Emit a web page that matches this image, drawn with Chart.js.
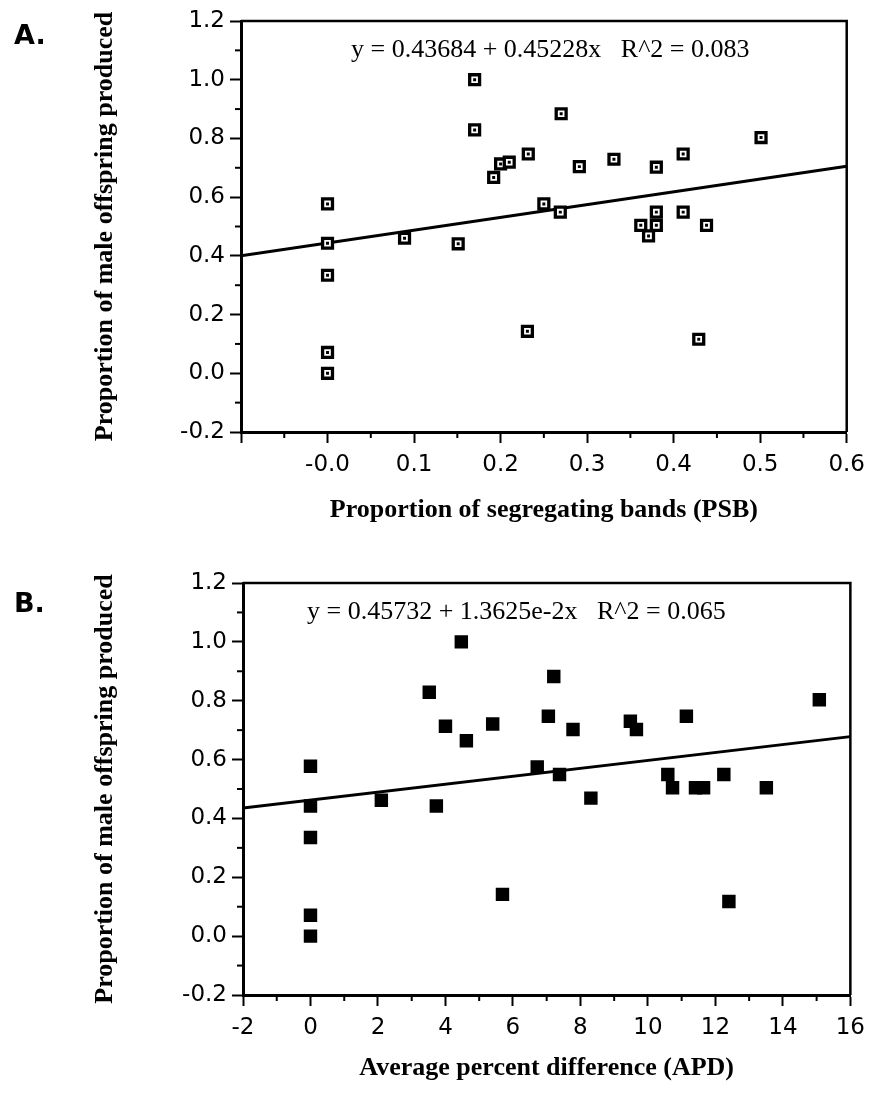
<!DOCTYPE html>
<html>
<head>
<meta charset="utf-8">
<script src="https://cdn.jsdelivr.net/npm/chart.js@4.4.1/dist/chart.umd.min.js"></script>
<style>
  html, body { margin: 0; padding: 0; background: #fff; }
  #wrap { position: relative; width: 873px; height: 1097px; }
  canvas { position: absolute; left: 0; }
</style>
</head>
<body>
<div id="wrap">
  <canvas id="chartA" width="873" height="550" style="top:0"></canvas>
  <canvas id="chartB" width="873" height="547" style="top:550px"></canvas>
</div>
<script>
// --- panel A: proportion of segregating bands (PSB) ---
const psbX = [0, 0, 0, 0, 0, 0.089, 0.151, 0.17, 0.17, 0.192, 0.2, 0.21, 0.231, 0.232, 0.25,
  0.269, 0.27, 0.291, 0.331, 0.362, 0.371, 0.38, 0.38, 0.38, 0.411, 0.411, 0.429, 0.438, 0.501];
const psbY = [0.577, 0.443, 0.334, 0.071, 0.0, 0.46, 0.441, 1.0, 0.829, 0.667, 0.713, 0.719, 0.143, 0.747, 0.577,
  0.549, 0.884, 0.704, 0.729, 0.504, 0.468, 0.702, 0.549, 0.504, 0.747, 0.549, 0.116, 0.504, 0.803];
const fitAX = [-0.1, 0.6];
const fitAY = [0.40, 0.705];
const equationA = 'y = 0.43684 + 0.45228x   R^2 = 0.083';

// --- panel B: average percent difference (APD) ---
const apdX = [0, 0, 0, 0, 0, 2.1, 3.52, 3.73, 4.0, 4.47, 4.62, 5.4, 5.69, 6.72, 7.05, 7.21, 7.38, 7.78,
  8.31, 9.48, 9.66, 10.59, 10.73, 11.14, 11.41, 11.65, 12.25, 12.4, 13.51, 15.08];
const apdY = [0.577, 0.442, 0.335, 0.071, 0.0, 0.462, 0.829, 0.442, 0.713, 1.0, 0.664, 0.721, 0.142, 0.575, 0.747, 0.882, 0.549, 0.702,
  0.469, 0.730, 0.702, 0.549, 0.504, 0.747, 0.504, 0.504, 0.549, 0.118, 0.504, 0.803];
const fitBX = [-2, 16];
const fitBY = [0.435, 0.678];
const equationB = 'y = 0.45732 + 1.3625e-2x   R^2 = 0.065';

// --- ticks ---
const yTickValues = [-0.2, 0, 0.2, 0.4, 0.6, 0.8, 1.0, 1.2];
const yTickLabels = ['-0.2', '0.0', '0.2', '0.4', '0.6', '0.8', '1.0', '1.2'];
const yMinorTicks = [-0.1, 0.1, 0.3, 0.5, 0.7, 0.9, 1.1];
const xTickValuesA = [-0.1, 0, 0.1, 0.2, 0.3, 0.4, 0.5, 0.6];
const xTickLabelsA = ['', '-0.0', '0.1', '0.2', '0.3', '0.4', '0.5', '0.6'];
const xMinorTicksA = [-0.05, 0.05, 0.15, 0.25, 0.35, 0.45, 0.55];
const xTickValuesB = [-2, 0, 2, 4, 6, 8, 10, 12, 14, 16];
const xTickLabelsB = ['-2', '0', '2', '4', '6', '8', '10', '12', '14', '16'];
const xMinorTicksB = [-1, 1, 3, 5, 7, 9, 11, 13, 15];

const yTitle = 'Proportion of male offspring produced';

const pts = (xs, ys) => xs.map((x, i) => ({ x, y: ys[i] }));

// box top/right sides, minor ticks, equation and panel letter
const extras = {
  id: 'extras',
  afterDraw(chart, args, o) {
    const { ctx, chartArea: a, scales: { x, y } } = chart;
    ctx.save();
    ctx.strokeStyle = '#000';
    ctx.lineWidth = 2.5;
    ctx.beginPath();
    ctx.moveTo(a.left, a.top);
    ctx.lineTo(a.right, a.top);
    ctx.lineTo(a.right, a.bottom);
    ctx.stroke();

    ctx.lineWidth = 2;
    o.yMinor.forEach(v => {
      const p = y.getPixelForValue(v);
      ctx.beginPath(); ctx.moveTo(a.left, p); ctx.lineTo(a.left - 6, p); ctx.stroke();
    });
    o.xMinor.forEach(v => {
      const p = x.getPixelForValue(v);
      ctx.beginPath(); ctx.moveTo(p, a.bottom); ctx.lineTo(p, a.bottom + 6); ctx.stroke();
    });

    ctx.fillStyle = '#000';
    ctx.textBaseline = 'alphabetic';
    ctx.font = '26px "Liberation Serif"';
    ctx.fillText(o.equation, a.left + o.eqDx, a.top + 36);
    ctx.font = 'bold 27px "DejaVu Sans"';
    ctx.fillText(o.letter, 14, o.letterY);
    ctx.restore();
  }
};

function makeChart(id, cfg) {
  const tickFont = { family: '"DejaVu Sans"', size: 23 };
  const titleFont = { family: '"Liberation Serif"', size: 26, weight: 'bold' };
  return new Chart(document.getElementById(id), {
    type: 'scatter',
    data: { datasets: cfg.datasets },
    plugins: [extras],
    options: {
      responsive: false,
      animation: false,
      events: [],
      layout: { padding: cfg.padding },
      plugins: {
        legend: { display: false },
        tooltip: { enabled: false },
        extras: cfg.extras
      },
      scales: {
        x: {
          type: 'linear',
          min: cfg.xMin, max: cfg.xMax,
          afterBuildTicks: s => { s.ticks = cfg.xTicks.map(v => ({ value: v })); },
          afterFit: s => { s.height = cfg.xHeight; },
          ticks: {
            autoSkip: false, maxRotation: 0, padding: 8,
            color: '#000', font: tickFont,
            callback: (v, i) => cfg.xLabels[i]
          },
          grid: { drawOnChartArea: false, tickLength: 11, tickWidth: 2, tickColor: '#000' },
          border: { color: '#000', width: 3 },
          title: { display: true, text: cfg.xTitle, color: '#000', font: titleFont, padding: { bottom: cfg.xTitlePad } }
        },
        y: {
          type: 'linear',
          min: -0.2, max: 1.2,
          afterBuildTicks: s => { s.ticks = yTickValues.map(v => ({ value: v })); },
          afterFit: s => { s.width = cfg.yWidth; },
          ticks: {
            autoSkip: false, padding: 5,
            color: '#000', font: tickFont,
            callback: (v, i) => yTickLabels[i]
          },
          grid: { drawOnChartArea: false, tickLength: 11, tickWidth: 2, tickColor: '#000' },
          border: { color: '#000', width: 3 },
          title: { display: true, text: yTitle, color: '#000', font: titleFont, padding: { top: 90 } }
        }
      }
    }
  });
}

makeChart('chartA', {
  datasets: [
    { data: pts(psbX, psbY), pointStyle: 'rect', pointRadius: 2.1, backgroundColor: '#000', borderWidth: 0 },
    { data: pts(psbX, psbY), pointStyle: 'rect', pointRadius: 7, backgroundColor: '#fff', borderColor: '#000', borderWidth: 3.3 },
    { data: pts(fitAX, fitAY), showLine: true, pointRadius: 0, borderColor: '#000', borderWidth: 3 }
  ],
  padding: { left: 0, top: 21, right: 26, bottom: 0 },
  xMin: -0.1, xMax: 0.6,
  xTicks: xTickValuesA, xLabels: xTickLabelsA,
  xHeight: 118, yWidth: 241,
  xTitle: 'Proportion of segregating bands (PSB)', xTitlePad: 24,
  extras: { yMinor: yMinorTicks, xMinor: xMinorTicksA, equation: equationA, eqDx: 110, letter: 'A.', letterY: 44 }
});

makeChart('chartB', {
  datasets: [
    { data: pts(apdX, apdY), pointStyle: 'rect', pointRadius: 9.5, backgroundColor: '#000', borderWidth: 0 },
    { data: pts(fitBX, fitBY), showLine: true, pointRadius: 0, borderColor: '#000', borderWidth: 3 }
  ],
  padding: { left: 0, top: 33, right: 16, bottom: 0 },
  xMin: -2, xMax: 16,
  xTicks: xTickValuesB, xLabels: xTickLabelsB,
  xHeight: 102, yWidth: 243,
  xTitle: 'Average percent difference (APD)', xTitlePad: 13,
  extras: { yMinor: yMinorTicks, xMinor: xMinorTicksB, equation: equationB, eqDx: 64, letter: 'B.', letterY: 62 }
});
</script>
</body>
</html>
